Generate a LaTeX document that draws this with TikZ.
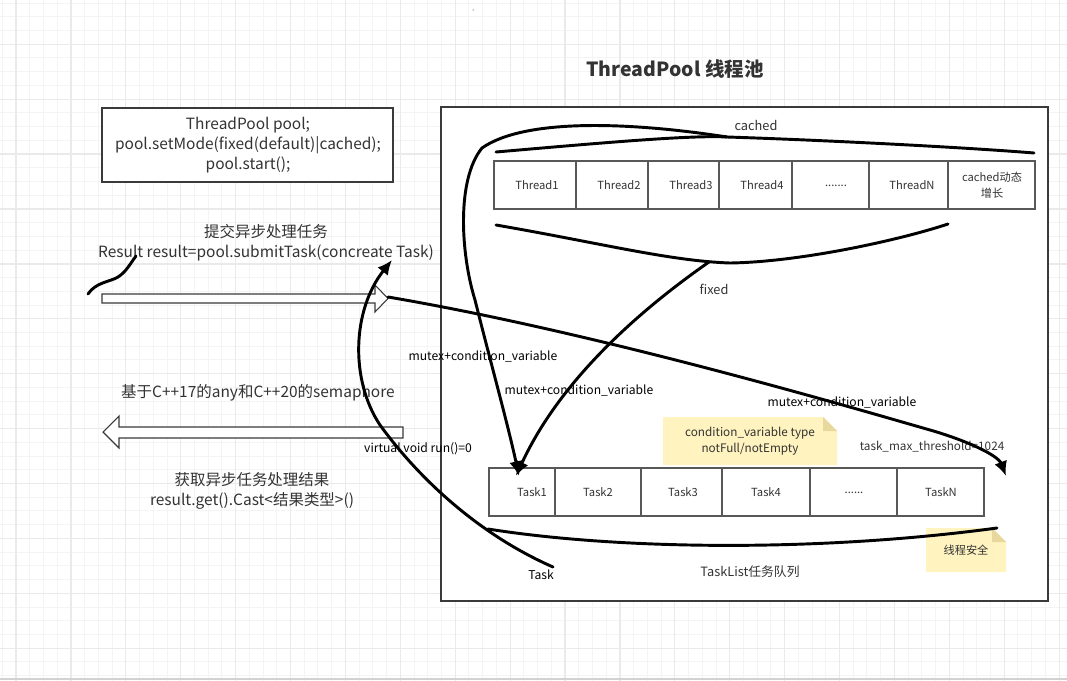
\documentclass[tikz,border=0pt]{standalone}
\usepackage{fontspec}
\setmainfont{Noto Sans CJK SC}
\usetikzlibrary{arrows.meta}
\definecolor{gridminor}{HTML}{F4F4F4}
\definecolor{gridmajor}{HTML}{EAEAEA}
\definecolor{txt}{HTML}{333333}
\definecolor{bord}{HTML}{3A3A3A}
\definecolor{notefill}{HTML}{FFF3BF}
\definecolor{notefold}{HTML}{E8D89E}
\tikzset{
  boxline/.style={draw=bord, line width=0.8pt, fill=white},
  cellbox/.style={draw=bord!85, line width=0.9pt, fill=white},
  lbl/.style={inner sep=0pt, text=txt, font=\fontsize{8.4pt}{12pt}\selectfont, align=center},
  lbln/.style={inner sep=0pt, text=txt, font=\fontsize{8.8pt}{12pt}\selectfont, align=center},
  lblk/.style={inner sep=0pt, text=black, font=\fontsize{9.1pt}{12pt}\selectfont, align=center},
  big/.style={inner sep=0pt, text=txt, font=\fontsize{11.6pt}{14.8pt}\selectfont, align=center},
  mid/.style={inner sep=0pt, text=txt, font=\fontsize{9.6pt}{13pt}\selectfont, align=center},
  hand/.style={line width=2.2pt, black, line cap=round, line join=round},
  tip/.style={-{Latex[length=11pt,width=10pt]}},
  blockarrow/.style={draw=bord, line width=0.8pt, fill=white},
  note/.style={fill=notefill, draw=none},
  fold/.style={fill=notefold, draw=none}
}
\begin{document}
\begin{tikzpicture}[x=0.75pt,y=-0.75pt]
\useasboundingbox (0,0) rectangle (1067,681);
\fill[white] (0,0) rectangle (1067,681);
% grid
\foreach \i in {0,...,77} \draw[gridminor, line width=0.75pt] ({2.3+13.725*\i},0) -- ({2.3+13.725*\i},681);
\foreach \i in {0,...,49} \draw[gridminor, line width=0.75pt] (0,{3.1+13.725*\i}) -- (1067,{3.1+13.725*\i});
\foreach \i in {0,...,19} \draw[gridmajor, line width=0.9pt] ({16+54.9*\i},0) -- ({16+54.9*\i},681);
\foreach \i in {0,...,11} \draw[gridmajor, line width=0.9pt] (0,{44.3+54.9*\i}) -- (1067,{44.3+54.9*\i});
\draw[gray!35, line width=1.5pt] (0,679) -- (1067,679);

% dot
\fill[black] (473,10) circle (0.5);

% title
\node[inner sep=0pt, text=txt, font=\fontsize{14.6pt}{17pt}\selectfont\bfseries] (title) at (675,69) {ThreadPool 线程池};

% container
\draw[boxline] (441,107) rectangle (1048,601);

% box 1
\draw[boxline] (102,108) rectangle (393,182);
\node[big] (setup) at (248,145) {ThreadPool pool;\\pool.setMode(fixed(default)|cached);\\pool.start();};

% thread row
\draw[cellbox] (494,161) rectangle (576,209);
\draw[cellbox] (576,161) rectangle (648,209);
\draw[cellbox] (648,161) rectangle (719,209);
\draw[cellbox] (719,161) rectangle (792,209);
\draw[cellbox] (792,161) rectangle (869,209);
\draw[cellbox] (869,161) rectangle (948,209);
\draw[cellbox] (948,161) rectangle (1035,209);
\node[lbl] (th1) at (537,185) {Thread1};
\node[lbl] (th2) at (619,185) {Thread2};
\node[lbl] (th3) at (691,185) {Thread3};
\node[lbl] (th4) at (762,185) {Thread4};
\node[lbl] (thd) at (836,186) {.......};
\node[lbl] (thn) at (912,185) {ThreadN};
\node[lbl] (thc) at (992,185) {cached动态\\增长};

% task row
\draw[cellbox] (489,468) rectangle (555,516);
\draw[cellbox] (555,468) rectangle (641,516);
\draw[cellbox] (641,468) rectangle (722,516);
\draw[cellbox] (722,468) rectangle (810,516);
\draw[cellbox] (810,468) rectangle (897,516);
\draw[cellbox] (897,468) rectangle (984,516);
\node[lbl] (ta1) at (532,492) {Task1};
\node[lbl] (ta2) at (598,492) {Task2};
\node[lbl] (ta3) at (683,492) {Task3};
\node[lbl] (ta4) at (766,492) {Task4};
\node[lbl] (tad) at (854,493) {......};
\node[lbl] (tan) at (941,492) {TaskN};

% notes
\fill[note] (663,417) -- (823,417) -- (837,431) -- (837,465) -- (663,465) -- cycle;
\fill[fold] (823,417) -- (837,431) -- (823,431) -- cycle;
\node[lbln] (cvnote) at (750,441) {condition\_variable type\\notFull/notEmpty};
\fill[note] (926,528) -- (992,528) -- (1006,542) -- (1006,572) -- (926,572) -- cycle;
\fill[fold] (992,528) -- (1006,542) -- (992,542) -- cycle;
\node[lbl] (safe) at (966,550) {线程安全};

% block arrows
\draw[blockarrow] (102,294) -- (375,294) -- (375,285) -- (388,298.5) -- (375,312) -- (375,303) -- (102,303) -- cycle;
\draw[blockarrow] (403,427) -- (119,427) -- (119,416) -- (103,432) -- (119,448) -- (119,438) -- (403,438) -- cycle;

% texts
\node[mid] (cachedl) at (756,125) {cached};
\node[mid] (fixedl) at (714,289) {fixed};
\node[big] (submit) at (266,243) {提交异步处理任务\\Result result=pool.submitTask(concreate Task)};
\node[big] (basis) at (258,393) {基于C++17的any和C++20的semaphore};
\node[big] (getres) at (252,491) {获取异步任务处理结果\\result.get().Cast<结果类型>()};
\node[lblk] (mc1) at (483,357) {mutex+condition\_variable};
\node[lblk] (mc2) at (579,391) {mutex+condition\_variable};
\node[lblk] (mc3) at (842,403) {mutex+condition\_variable};
\node[lblk] (vrun) at (418,449) {virtual void run()=0};
\node[lbln] (thr) at (932,447) {task\_max\_threshold=1024};
\node[lblk] (taskl) at (541,575) {Task};
\node[mid] (tlist) at (750,572) {TaskList任务队列};

% coordinates
\coordinate (cA) at (496,152);
\coordinate (cP) at (727,137);
\coordinate (cB) at (1034,153);
\coordinate (fA) at (496,225);
\coordinate (fP) at (709,262);
\coordinate (fB) at (948,224);
\coordinate (t1tip) at (519,476);
\coordinate (t1tipb) at (516,476);
\coordinate (subtip) at (388,297);
\coordinate (ntip) at (1006,476);
\coordinate (taskstart) at (553,567);
\coordinate (uptip) at (392,260);
\coordinate (lA) at (488,529);
\coordinate (lB) at (997,528);
\coordinate (sq1) at (88,294);
\coordinate (sq2) at (136,256);

% hand-drawn strokes
\draw[hand] (cA) .. controls (600,143) and (690,135) .. (cP) .. controls (820,140) and (960,147) .. (cB);
\draw[hand] (fA) .. controls (600,243) and (670,261) .. (730,263) .. controls (800,262) and (900,240) .. (fB);
\draw[hand, tip] (cP) .. controls (630,122) and (525,118) .. (482,148) .. controls (456,180) and (461,255) .. (475,300) .. controls (490,360) and (508,425) .. (t1tip);
\draw[hand, tip] (fP) .. controls (640,310) and (560,380) .. (t1tipb);
\draw[hand, tip] (subtip) .. controls (600,333) and (860,410) .. (930,430) .. controls (965,440) and (998,455) .. (ntip);
\draw[hand, tip] (taskstart) .. controls (480,535) and (420,480) .. (380,425) .. controls (350,380) and (352,310) .. (uptip);
\draw[hand] (lA) .. controls (620,550) and (820,552) .. (lB);
\draw[hand] (sq1) .. controls (96,282) and (110,282) .. (118,277) .. controls (126,272) and (130,264) .. (sq2);
\end{tikzpicture}
\end{document}
